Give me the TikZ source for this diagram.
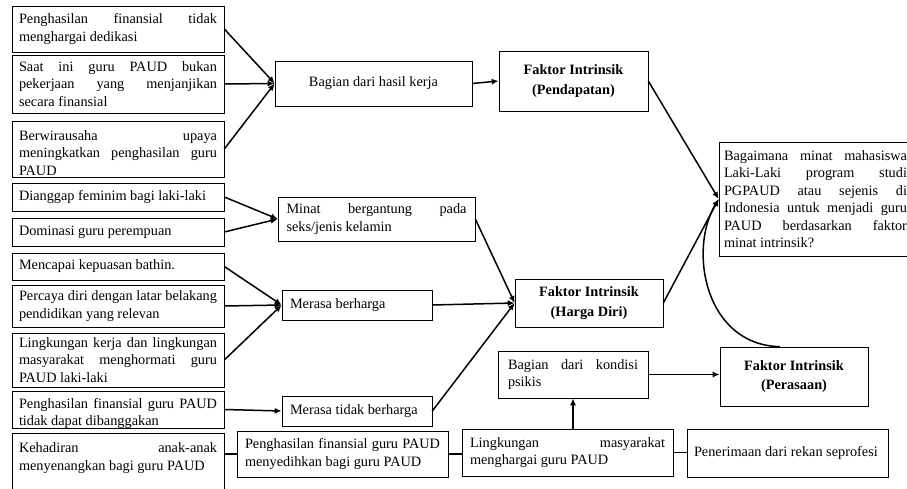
\documentclass[tikz,border=0pt]{standalone}
\usepackage{fontspec}
\setmainfont{Liberation Serif}
\usepackage{tikz}
\usetikzlibrary{arrows.meta}
\tolerance=10000
\hbadness=10000
\hyphenpenalty=10000
\exhyphenpenalty=10000
\tikzset{
	boxnode/.style={
			rectangle,
			draw=black,
			line width=0.6pt,
			fill=white,
			font=\fontsize{14.3}{17.5}\selectfont,
			align=justify,
			inner ysep=0pt
		},
	leftnode/.style={
			boxnode,
			text width=198pt,
			inner xsep=7pt
		},
	factornode/.style={
			boxnode,
			font=\fontsize{14.3}{19.5}\selectfont\bfseries,
			align=center
		},
	cuttext/.style={
			leftnode,
			draw=none,
			fill=none,
			anchor=north,
			inner ysep=6.5pt
		},
	arrowedge/.style={
			line width=1.5pt,
			-{Latex[length=7pt,width=6pt]}
		},
	joinedge/.style={
			line width=1.5pt
		}
}
\begin{document}
\begin{tikzpicture}[x=1pt, y=-1pt]
	\useasboundingbox (0,0) rectangle (907,489);

	% left column
	\node[leftnode, minimum height=46pt] (dedikasi) at (118,29) {Penghasilan finansial tidak\linebreak menghargai dedikasi};
	\node[leftnode, minimum height=58pt] (saatini) at (118,84) {Saat ini guru PAUD bukan\linebreak pekerjaan yang menjanjikan\linebreak secara finansial};
	\node[leftnode, minimum height=56pt] (wira) at (118,149) {};
	\begin{scope}
		\clip (wira.south west) rectangle (wira.north east);
		\node[cuttext, inner ysep=9.5pt] (wiratext) at (wira.north) {Berwirausaha upaya\linebreak meningkatkan penghasilan guru\linebreak PAUD};
	\end{scope}
	\node[leftnode, minimum height=28pt] (feminim) at (118,197) {Dianggap feminim bagi laki-laki};
	\node[leftnode, minimum height=28pt] (dominasi) at (118,232) {Dominasi guru perempuan};
	\node[leftnode, minimum height=27pt] (bathin) at (118,266.5) {Mencapai kepuasan bathin.};
	\node[leftnode, minimum height=42pt] (percaya) at (118,306) {Percaya diri dengan latar belakang\linebreak pendidikan yang relevan};
	\node[leftnode, minimum height=54pt] (hormat) at (118,360) {Lingkungan kerja dan lingkungan\linebreak masyarakat menghormati guru\linebreak PAUD laki-laki};
	\node[leftnode, minimum height=37pt] (bangga) at (118,409.5) {};
	\begin{scope}
		\clip (bangga.south west) rectangle (bangga.north east);
		\node[cuttext, inner ysep=7pt] (banggatext) at (bangga.north) {Penghasilan finansial guru PAUD\linebreak tidak dapat dibanggakan};
	\end{scope}
	\node[leftnode, minimum height=67pt] (kehadiran) at (118,466.5) {};
	\node[cuttext, inner ysep=10pt] (kehadirantext) at (kehadiran.north) {Kehadiran anak-anak\linebreak menyenangkan bagi guru PAUD};

	% middle
	\node[boxnode, align=center, minimum width=197pt, minimum height=45pt] (hasil) at (373.5,83.5) {Bagian dari hasil kerja};
	\node[boxnode, text width=180pt, inner xsep=8.5pt, minimum height=44pt] (minat) at (376.5,219) {Minat bergantung pada\linebreak seks/jenis kelamin};
	\node[boxnode, text width=134pt, inner xsep=8pt, minimum height=30pt] (berharga) at (357,305) {Merasa berharga};
	\node[boxnode, text width=134pt, inner xsep=8pt, minimum height=30pt] (tidakberharga) at (357,411) {Merasa tidak berharga};
	\node[boxnode, text width=195pt, inner xsep=8pt, minimum height=46pt] (menyedihkan) at (342.5,454) {Penghasilan finansial guru PAUD\linebreak menyedihkan bagi guru PAUD};

	\node[factornode, minimum width=149pt, minimum height=60pt] (pendapatan) at (573.5,81) {Faktor Intrinsik\\(Pendapatan)};
	\node[factornode, minimum width=148pt, minimum height=48pt] (hargadiri) at (589,303) {Faktor Intrinsik\\(Harga Diri)};
	\node[boxnode, text width=130pt, inner xsep=10pt, minimum height=47pt] (psikis) at (573,374.5) {Bagian dari kondisi\linebreak psikis};
	\node[boxnode, text width=195pt, inner xsep=8pt, minimum height=47pt] (lingkungan) at (567.5,452.5) {Lingkungan masyarakat\linebreak menghargai guru PAUD};

	% right
	\node[boxnode, text width=183pt, inner xsep=5pt, minimum height=114pt] (question) at (815.5,199) {Bagaimana minat mahasiswa\linebreak Laki-Laki program studi\linebreak PGPAUD atau sejenis di\linebreak Indonesia untuk menjadi guru\linebreak PAUD berdasarkan faktor\linebreak minat intrinsik?};
	\node[factornode, minimum width=148pt, minimum height=59pt] (perasaan) at (794,376.5) {Faktor Intrinsik\\(Perasaan)};
	\node[boxnode, text width=187pt, inner xsep=7pt, minimum height=48pt] (penerimaan) at (787.5,453) {Penerimaan dari rekan seprofesi};

	% connectors
	\draw[arrowedge] (dedikasi.east) -- (hasil.west);
	\draw[arrowedge] (saatini.east) -- (hasil.west);
	\draw[arrowedge] (wira.east) -- (hasil.west);
	\draw[arrowedge] (feminim.east) -- (minat.west);
	\draw[arrowedge] (dominasi.east) -- (minat.west);
	\draw[arrowedge] (bathin.east) -- (berharga.west);
	\draw[arrowedge] (percaya.east) -- (berharga.west);
	\draw[arrowedge] (hormat.east) -- (berharga.west);
	\draw[arrowedge] (bangga.east) -- (tidakberharga.west);

	\draw[arrowedge] (hasil.east) -- (pendapatan.west);
	\draw[arrowedge] (minat.east) -- (hargadiri.west);
	\draw[arrowedge] (berharga.east) -- (hargadiri.west);
	\draw[arrowedge] (tidakberharga.east) -- (hargadiri.west);

	\draw[joinedge] (kehadiran.east |- menyedihkan.west) -- (menyedihkan.west);
	\draw[joinedge] (menyedihkan.east) -- (menyedihkan.east -| lingkungan.west);
	\draw[joinedge] (lingkungan.east) -- (lingkungan.east -| penerimaan.west);
	\draw[arrowedge] (psikis.south |- lingkungan.north) -- (psikis.south);
	\draw[arrowedge] (psikis.east) -- (psikis.east -| perasaan.west);

	\draw[arrowedge] (pendapatan.east) -- (question.west);
	\draw[arrowedge] (hargadiri.east) -- (question.west);
	\draw[arrowedge] ([xshift=-14pt]perasaan.north) .. controls (705,345) and (688,250) .. (question.west);
\end{tikzpicture}
\end{document}
